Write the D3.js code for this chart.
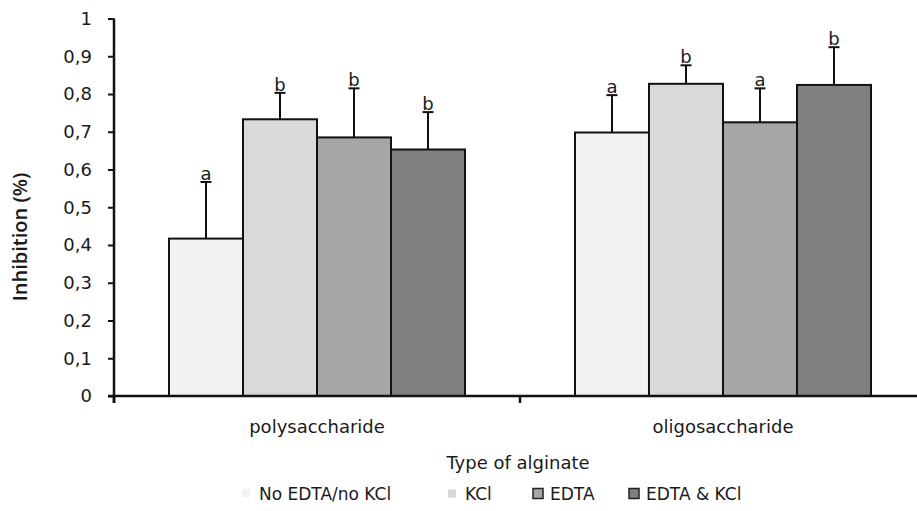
<!DOCTYPE html>
<html>
<head>
<meta charset="utf-8">
<script src="https://cdn.jsdelivr.net/npm/d3@7/dist/d3.min.js"></script>
<style>
  html, body { margin: 0; padding: 0; background: #fff; }
  svg { display: block; }
  text { fill: #1a1a1a; }
</style>
</head>
<body>
<svg id="chart" width="917" height="511"></svg>
<script>
// Alginate inhibition data: mean, upper error bar and significance letter
const categories = ["polysaccharide", "oligosaccharide"];
const seriesNames = ["No EDTA/no KCl", "KCl", "EDTA", "EDTA & KCl"];
const seriesColors = ["#F2F2F2", "#D9D9D9", "#A6A6A6", "#808080"];
const meanPoly = [0.417, 0.733, 0.685, 0.653];
const meanOligo = [0.698, 0.827, 0.725, 0.824];
const errPoly = [0.150, 0.070, 0.130, 0.099];
const errOligo = [0.099, 0.049, 0.090, 0.100];
const lettersPoly = ["a", "b", "b", "b"];
const lettersOligo = ["a", "b", "a", "b"];
const yTicks = [0, 0.1, 0.2, 0.3, 0.4, 0.5, 0.6, 0.7, 0.8, 0.9, 1];

const means = [meanPoly, meanOligo];
const errs = [errPoly, errOligo];
const letters = [lettersPoly, lettersOligo];

const svg = d3.select("#chart");
const fontMain = "'DejaVu Sans', Verdana, sans-serif";

const x0 = d3.scaleBand().domain(categories).range([114, 926]).paddingInner(0).paddingOuter(0);
const x1 = d3.scaleBand().domain(seriesNames).range([0, x0.bandwidth()]).paddingInner(0).paddingOuter(0.743);
const y = d3.scaleLinear().domain([0, 1]).range([396, 18.5]);
const fmt = v => (v === 0 || v === 1) ? String(v) : String(v).replace(".", ",");

// Bars, error bars and letters per category group
const groups = svg.selectAll("g.grp").data(categories).join("g")
  .attr("class", "grp")
  .attr("transform", d => `translate(${x0(d)},0)`);

groups.each(function(cat, ci) {
  const g = d3.select(this);
  const rows = seriesNames.map((s, si) => ({ s, si, v: means[ci][si], e: errs[ci][si], l: letters[ci][si] }));
  const cx = d => x1(d.s) + x1.bandwidth() / 2;
  g.selectAll("rect").data(rows).join("rect")
    .attr("x", d => x1(d.s))
    .attr("y", d => y(d.v))
    .attr("width", x1.bandwidth())
    .attr("height", d => y(0) - y(d.v))
    .attr("fill", d => seriesColors[d.si])
    .attr("stroke", "#111")
    .attr("stroke-width", 2);
  g.selectAll("line.err").data(rows).join("line")
    .attr("class", "err")
    .attr("x1", cx).attr("x2", cx)
    .attr("y1", d => y(d.v))
    .attr("y2", d => y(d.v + d.e))
    .attr("stroke", "#111").attr("stroke-width", 2);
  g.selectAll("line.cap").data(rows).join("line")
    .attr("class", "cap")
    .attr("x1", d => cx(d) - 5.5)
    .attr("x2", d => cx(d) + 5.5)
    .attr("y1", d => y(d.v + d.e))
    .attr("y2", d => y(d.v + d.e))
    .attr("stroke", "#111").attr("stroke-width", 2);
  g.selectAll("text.lab").data(rows).join("text")
    .attr("class", "lab")
    .attr("x", cx)
    .attr("y", d => y(d.v + d.e) - 2)
    .attr("text-anchor", "middle")
    .style("font-family", fontMain)
    .style("font-size", "18px")
    .text(d => d.l);
});

// Y axis
const yAxis = svg.append("g").attr("transform", "translate(114,0)")
  .call(d3.axisLeft(y).tickValues(yTicks).tickFormat(fmt).tickSize(6).tickPadding(16));
yAxis.select(".domain").attr("stroke", "#111").attr("stroke-width", 2.5).attr("d", `M0,${y(1)}V${y(0) + 7}`);
yAxis.selectAll(".tick line").attr("stroke", "#111").attr("stroke-width", 2);
yAxis.selectAll(".tick text").style("font-family", fontMain).style("font-size", "18px").attr("fill", "#1a1a1a");

// X axis
const xAxis = svg.append("g").attr("transform", `translate(0,${y(0)})`)
  .call(d3.axisBottom(x0).tickSize(0).tickPadding(0));
xAxis.select(".domain").attr("stroke", "#111").attr("stroke-width", 2.5).attr("d", "M108,0H917");
xAxis.selectAll(".tick text")
  .attr("dy", null).attr("y", 37)
  .style("font-family", fontMain).style("font-size", "18px").attr("fill", "#1a1a1a");
const bounds = [x0(categories[0]), x0(categories[1]), x0(categories[1]) + x0.bandwidth()];
xAxis.selectAll("line.bnd").data(bounds).join("line")
  .attr("class", "bnd")
  .attr("x1", d => d).attr("x2", d => d)
  .attr("y1", 0).attr("y2", 7)
  .attr("stroke", "#111").attr("stroke-width", 2.5);

// Axis titles
svg.append("text")
  .attr("x", 518).attr("y", 469)
  .attr("text-anchor", "middle")
  .style("font-family", fontMain).style("font-size", "18px")
  .text("Type of alginate");

svg.append("text")
  .attr("transform", "translate(27,237) rotate(-90)")
  .attr("text-anchor", "middle")
  .style("font-family", "'Open Sans', sans-serif").style("font-size", "20px").style("font-weight", 600)
  .text("Inhibition (%)");

// Legend
const legendX = [242, 448, 533, 629];
const legend = svg.append("g");
seriesNames.forEach((s, i) => {
  const bordered = i >= 2;
  legend.append("rect")
    .attr("x", legendX[i]).attr("y", bordered ? 488.5 : 489.5)
    .attr("width", bordered ? 10 : 8).attr("height", bordered ? 10 : 8)
    .attr("fill", seriesColors[i])
    .attr("stroke", bordered ? "#222" : "none")
    .attr("stroke-width", 1.5);
  legend.append("text")
    .attr("x", legendX[i] + (bordered ? 17 : 17)).attr("y", 500)
    .style("font-family", fontMain).style("font-size", "17px")
    .text(s);
});
</script>
</body>
</html>
